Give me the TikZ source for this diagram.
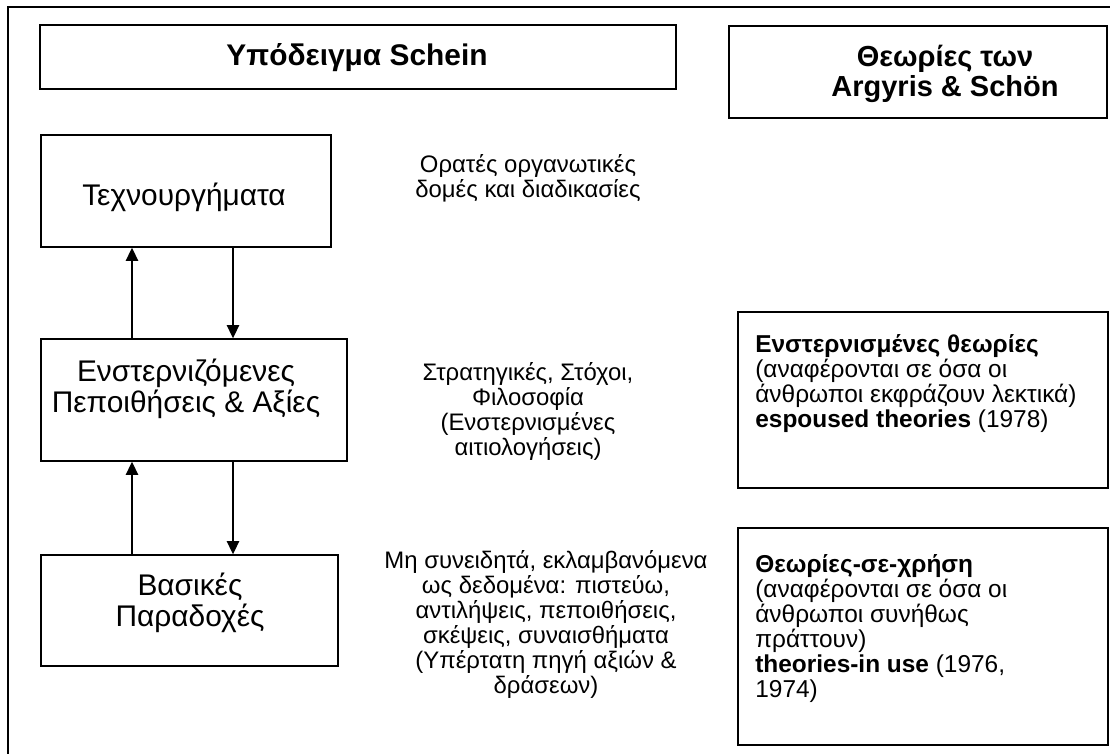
\documentclass[tikz,border=0pt]{standalone}
\usepackage{fontspec}
\setmainfont{Liberation Sans}
\usetikzlibrary{arrows.meta}

\begin{document}
\begin{tikzpicture}[x=0.02cm, y=-0.02cm,
  caja/.style={draw, line width=0.8pt, inner sep=0pt},
  txtcaja/.style={font=\fontsize{17}{17.5}\selectfont, align=center, inner sep=0pt},
  lateral/.style={font=\fontsize{13.6}{14.3}\selectfont, align=center, inner sep=0pt, anchor=north},
  teoria/.style={font=\fontsize{13.9}{14.3}\selectfont, align=left, inner sep=0pt, anchor=north west},
  flecha/.style={-{Triangle[length=7.5pt, width=7pt]}, line width=0.8pt}
]

 \useasboundingbox (0,0) rectangle (1110,754);

 % --- MARCO EXTERIOR ---
 % solo se ven el lado de arriba y el de la izquierda
 \draw[line width=1pt] (8,754) -- (8,7) -- (1110,7);

 % --- TITULOS ---
 \node[caja, minimum width=12.72cm, minimum height=1.28cm] (titschein) at (358,57) {};
 \node[anchor=base, font=\fontsize{17}{19}\selectfont\bfseries] (txtschein) at (357,65) {Υπόδειγμα Schein};

 \node[caja, minimum width=7.56cm, minimum height=1.84cm] (titarg) at (918,72) {};
 \node[anchor=north, align=center, inner sep=0pt, font=\fontsize{16.5}{17}\selectfont\bfseries] (txtarg) at (945,45) {Θεωρίες των\\Argyris \& Schön};

 % --- NIVELES DE SCHEIN ---
 \node[caja, minimum width=5.8cm, minimum height=2.24cm] (tec) at (186,191) {};
 \node[caja, minimum width=6.12cm, minimum height=2.44cm] (enst) at (194,400) {};
 \node[caja, minimum width=5.94cm, minimum height=2.22cm] (bas) at (189.5,610.5) {};

 % el texto va un poco mas arriba del centro de cada caja
 \node[txtcaja, anchor=base] (tectxt) at (184,205) {Τεχνουργήματα};
 \node[txtcaja, anchor=north] (enstxt) at (186,359) {Ενστερνιζόμενες\\Πεποιθήσεις \& Αξίες};
 \node[txtcaja, anchor=north] (bastxt) at (190,573) {Βασικές\\Παραδοχές};

 % flechas: subiendo a la izquierda, bajando a la derecha
 \coordinate (sube) at (132,0);
 \coordinate (baja) at (233,0);
 \draw[flecha] (enst.north -| sube) -- (tec.south -| sube);
 \draw[flecha] (tec.south -| baja) -- (enst.north -| baja);
 \draw[flecha] (bas.north -| sube) -- (enst.south -| sube);
 \draw[flecha] (enst.south -| baja) -- (bas.north -| baja);

 % --- TEXTOS DEL CENTRO ---
 \node[lateral] (orat) at (528,154) {Ορατές οργανωτικές\\δομές και διαδικασίες};
 \node[lateral] (strat) at (528,362) {Στρατηγικές, Στόχοι,\\Φιλοσοφία\\(Ενστερνισμένες\\αιτιολογήσεις)};
 \node[lateral] (mh) at (546,550) {Μη συνειδητά, εκλαμβανόμενα\\ως δεδομένα: πιστεύω,\\αντιλήψεις, πεποιθήσεις,\\σκέψεις, συναισθήματα\\(Υπέρτατη πηγή αξιών \&\\δράσεων)};

 % --- TEORIAS DE ARGYRIS & SCHÖN ---
 \node[caja, minimum width=7.4cm, minimum height=3.52cm] (esp) at (923,400) {};
 \node[teoria] (txtesp) at (755,334) {\textbf{Ενστερνισμένες θεωρίες}\\(αναφέρονται σε όσα οι\\άνθρωποι εκφράζουν λεκτικά)\\\textbf{espoused theories} (1978)};

 \node[caja, minimum width=7.4cm, minimum height=4.34cm] (uso) at (923,636.5) {};
 \node[teoria] (txtuso) at (755,554) {\textbf{Θεωρίες-σε-χρήση}\\(αναφέρονται σε όσα οι\\άνθρωποι συνήθως\\πράττουν)\\\textbf{theories-in use} (1976,\\1974)};

\end{tikzpicture}
\end{document}
